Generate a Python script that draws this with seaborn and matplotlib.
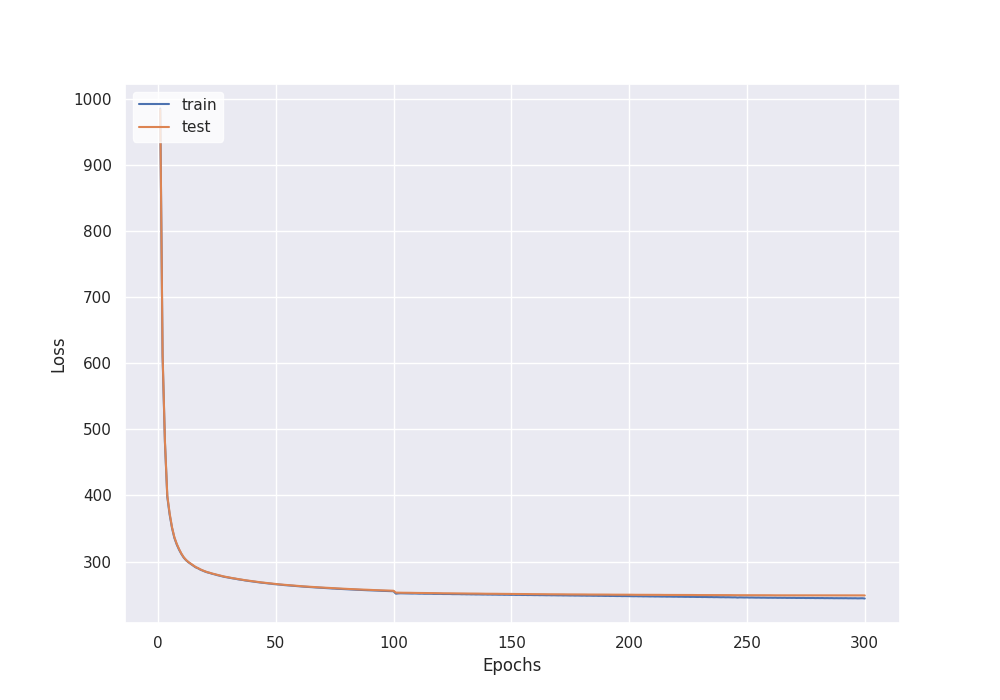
import matplotlib
matplotlib.use("Agg")
import matplotlib.pyplot as plt
import seaborn as sns
import pandas as pd

# Loss history per epoch
train_loss = [
    985.0, 610.0, 480.0, 398.0, 371.0, 351.0, 336.0, 326.0, 318.0, 311.5,
    306.0, 302.0, 299.0, 296.5, 294.0, 291.5, 290.0, 288.0, 286.5, 285.0,
    283.8, 282.9, 281.7, 280.9, 279.8, 279.0, 278.1, 277.2, 276.6, 275.9,
    275.2, 274.6, 274.1, 273.3, 272.8, 272.3, 271.6, 271.1, 270.7, 270.1,
    269.6, 269.2, 268.7, 268.2, 267.9, 267.4, 267.0, 266.7, 266.2, 265.9,
    265.5, 265.2, 264.8, 264.5, 264.2, 263.9, 263.6, 263.3, 263.0, 262.8,
    262.5, 262.2, 262.0, 261.7, 261.5, 261.2, 261.0, 260.8, 260.5, 260.3,
    260.1, 259.9, 259.7, 259.4, 259.3, 259.0, 258.9, 258.7, 258.5, 258.3,
    258.1, 258.0, 257.8, 257.6, 257.5, 257.3, 257.1, 257.0, 256.8, 256.7,
    256.5, 256.4, 256.2, 256.1, 255.9, 255.8, 255.7, 255.5, 255.4, 255.3,
    251.6, 252.0, 252.2, 252.1, 252.0, 252.0, 251.9, 251.8, 251.9, 251.7,
    251.6, 251.7, 251.5, 251.5, 251.4, 251.5, 251.3, 251.3, 251.2, 251.3,
    251.1, 251.1, 251.0, 251.1, 250.9, 250.9, 250.8, 250.9, 250.7, 250.8,
    250.6, 250.7, 250.5, 250.6, 250.4, 250.5, 250.4, 250.3, 250.4, 250.2,
    250.3, 250.1, 250.2, 250.1, 250.0, 250.1, 249.9, 250.0, 249.9, 249.8,
    249.9, 249.7, 249.8, 249.7, 249.6, 249.7, 249.5, 249.6, 249.5, 249.4,
    249.5, 249.3, 249.4, 249.3, 249.2, 249.3, 249.1, 249.2, 249.1, 249.0,
    249.1, 248.9, 249.0, 248.9, 248.8, 248.9, 248.7, 248.8, 248.7, 248.6,
    248.7, 248.5, 248.6, 248.5, 248.4, 248.5, 248.3, 248.4, 248.3, 248.2,
    248.3, 248.1, 248.2, 248.1, 248.0, 248.1, 247.9, 248.0, 247.9, 247.8,
    247.8, 247.7, 247.8, 247.6, 247.7, 247.5, 247.6, 247.5, 247.4, 247.5,
    247.3, 247.4, 247.3, 247.2, 247.3, 247.1, 247.2, 247.1, 247.0, 247.1,
    246.9, 247.0, 246.9, 246.8, 246.9, 246.7, 246.8, 246.7, 246.6, 246.7,
    246.5, 246.6, 246.5, 246.4, 246.5, 246.3, 246.4, 246.3, 246.2, 246.3,
    246.1, 246.2, 246.1, 246.0, 246.1, 245.7, 246.0, 245.9, 245.8, 245.9,
    245.7, 245.8, 245.7, 245.6, 245.7, 245.5, 245.6, 245.5, 245.4, 245.5,
    245.4, 245.5, 245.3, 245.4, 245.3, 245.4, 245.2, 245.3, 245.2, 245.3,
    245.1, 245.2, 245.1, 245.2, 245.0, 245.1, 245.0, 245.1, 244.9, 245.0,
    244.9, 245.0, 244.8, 244.9, 244.8, 244.9, 244.7, 244.8, 244.7, 244.8,
    244.7, 244.8, 244.6, 244.7, 244.6, 244.7, 244.5, 244.6, 244.7, 244.3,
]

test_loss = [
    983.0, 614.0, 482.0, 400.0, 373.0, 352.0, 337.0, 327.0, 319.0, 312.0,
    306.5, 302.5, 299.3, 296.8, 294.3, 292.0, 290.3, 288.4, 286.8, 285.4,
    284.1, 283.2, 282.1, 281.2, 280.2, 279.3, 278.4, 277.6, 276.9, 276.2,
    275.5, 274.9, 274.3, 273.7, 273.1, 272.6, 272.0, 271.5, 271.0, 270.5,
    270.0, 269.5, 269.1, 268.6, 268.2, 267.8, 267.4, 267.0, 266.6, 266.2,
    265.9, 265.5, 265.2, 264.9, 264.6, 264.3, 264.0, 263.7, 263.4, 263.2,
    262.9, 262.6, 262.4, 262.1, 261.9, 261.7, 261.4, 261.2, 261.0, 260.8,
    260.6, 260.4, 260.2, 260.0, 259.8, 259.6, 259.4, 259.2, 259.1, 258.9,
    258.7, 258.6, 258.4, 258.2, 258.1, 257.9, 257.8, 257.6, 257.5, 257.3,
    257.2, 257.0, 256.9, 256.8, 256.6, 256.5, 256.4, 256.3, 256.1, 256.0,
    253.2, 253.1, 253.1, 253.0, 253.0, 252.9, 252.9, 252.8, 252.8, 252.7,
    252.7, 252.6, 252.6, 252.5, 252.5, 252.5, 252.4, 252.4, 252.3, 252.3,
    252.2, 252.2, 252.2, 252.1, 252.1, 252.0, 252.0, 252.0, 251.9, 251.9,
    251.8, 251.8, 251.8, 251.7, 251.7, 251.7, 251.6, 251.6, 251.5, 251.5,
    251.5, 251.4, 251.4, 251.4, 251.3, 251.3, 251.3, 251.2, 251.2, 251.2,
    251.1, 251.1, 251.1, 251.0, 251.0, 251.0, 251.0, 250.9, 250.9, 250.9,
    250.8, 250.8, 250.8, 250.8, 250.7, 250.7, 250.7, 250.7, 250.6, 250.6,
    250.6, 250.6, 250.5, 250.5, 250.5, 250.5, 250.5, 250.4, 250.4, 250.4,
    250.4, 250.3, 250.3, 250.3, 250.3, 250.3, 250.2, 250.2, 250.2, 250.2,
    250.2, 250.1, 250.1, 250.1, 250.1, 250.1, 250.0, 250.0, 250.0, 250.0,
    250.0, 249.9, 249.9, 249.9, 249.9, 249.9, 249.9, 249.8, 249.8, 249.8,
    249.8, 249.8, 249.8, 249.7, 249.7, 249.7, 249.7, 249.7, 249.7, 249.7,
    249.6, 249.6, 249.6, 249.6, 249.6, 249.6, 249.6, 249.5, 249.5, 249.5,
    249.5, 249.5, 249.5, 249.5, 249.5, 249.4, 249.4, 249.4, 249.4, 249.4,
    249.4, 249.4, 249.4, 249.3, 249.3, 249.3, 249.3, 249.3, 249.3, 249.3,
    249.3, 249.2, 249.2, 249.2, 249.2, 249.2, 249.2, 249.2, 249.2, 249.2,
    249.1, 249.1, 249.1, 249.1, 249.1, 249.1, 249.1, 249.1, 249.1, 249.1,
    249.1, 249.1, 249.1, 249.0, 249.0, 249.0, 249.0, 249.0, 249.0, 249.0,
    249.0, 249.0, 249.0, 249.0, 249.0, 249.0, 249.0, 249.0, 249.0, 249.0,
    249.0, 249.0, 249.0, 249.0, 249.0, 249.0, 249.0, 249.0, 249.0, 248.9,
]

epochs = list(range(1, len(train_loss) + 1))

history = pd.DataFrame({"epoch": epochs, "train": train_loss, "test": test_loss})

sns.set_theme(style="darkgrid")

fig = plt.figure(figsize=(10, 7), dpi=100)
ax = fig.add_subplot(111)

sns.lineplot(data=history, x="epoch", y="train", label="train", ax=ax)
sns.lineplot(data=history, x="epoch", y="test", label="test", ax=ax)

ax.set_xlabel("Epochs")
ax.set_ylabel("Loss")
ax.legend(loc="upper left", facecolor="white", edgecolor="white", framealpha=0.8)

plt.savefig("out.png", dpi=100)
